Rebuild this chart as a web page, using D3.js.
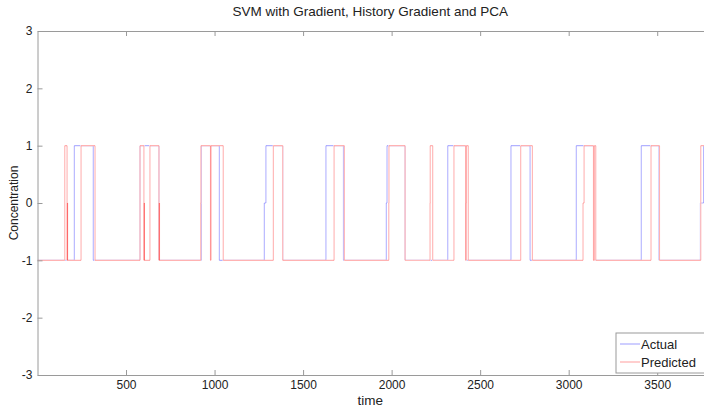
<!DOCTYPE html>
<html lang="en">
<head>
<meta charset="utf-8">
<title>SVM with Gradient, History Gradient and PCA</title>
<script src="https://d3js.org/d3.v7.min.js"></script>
<style>
    body { margin: 0; background: #fff; }
    text { font-family: "Liberation Sans", Arial, Helvetica, sans-serif; fill: #222; }
</style>
</head>
<body>
<div id="chart"></div>
<script>
// change points of each step series: time where the value switches, and the new value
var actualT = [0, 208, 315, 579, 686, 926, 1027, 1281, 1290, 1385, 1629, 1728, 1970, 1974, 2076,
               2317, 2418, 2674, 2782, 3043, 3143, 3410, 3510, 3744, 3762];
var actualV = [-1, 1, -1, 1, -1, 1, -1, 0, 1, -1, 1, -1, 0, 1, -1,
               1, -1, 1, -1, 1, -1, 1, -1, 0, 1];

var predT = [0, 154, 167, 169, 170, 246, 325, 579, 601, 603, 604, 635, 686, 688, 689,
             922, 923, 977, 980, 1049, 1332, 1385, 1675, 1733, 1984, 1985, 2076,
             2217, 2218, 2232, 2352, 2418, 2421, 2422, 2433, 2729, 2795,
             3081, 3087, 3140, 3145, 3153, 3465, 3513, 3746];
var predV = [-1, 1, -1, 0, -1, 1, -1, 1, -1, 0, -1, 1, -1, 0, -1,
             0, 1, -1, 1, -1, 1, -1, 1, -1, 0, 1, -1,
             0, 1, -1, 1, -1, 0, 1, -1, 1, -1,
             0, 1, -1, 1, -1, 1, -1, 1];

var xTicks = [500, 1000, 1500, 2000, 2500, 3000, 3500];
var yTicks = [-3, -2, -1, 0, 1, 2, 3];
var xMax = 3800;

(function() {
    var width = 704, height = 407;
    var plotLeft = 37.5, plotTop = 31, plotBottom = 375;
    var pxPerUnit = 0.17706;

    var svg = d3.select("#chart").append("svg")
        .attr("width", width)
        .attr("height", height);

    var x = d3.scaleLinear().domain([0, xMax]).range([plotLeft, plotLeft + xMax * pxPerUnit]);
    var y = d3.scaleLinear().domain([-3, 3]).range([plotBottom, plotTop]);

    svg.append("clipPath").attr("id", "plotclip")
        .append("rect")
        .attr("x", x(0)).attr("y", y(3) - 1)
        .attr("width", x(xMax) - x(0)).attr("height", y(-3) - y(3) + 2);

    function toPoints(T, V) {
        var pts = T.map(function(t, i) { return [t, V[i]]; });
        pts.push([xMax, V[V.length - 1]]);
        return pts;
    }

    // split the step line into single segments so overlapping strokes darken
    function toSegments(pts) {
        var segs = [];
        for (var i = 0; i < pts.length - 1; i++) {
            segs.push([pts[i], [pts[i + 1][0], pts[i][1]]]);
            if (i + 1 < pts.length - 1 && pts[i][1] !== pts[i + 1][1]) {
                segs.push([[pts[i + 1][0], pts[i][1]], [pts[i + 1][0], pts[i + 1][1]]]);
            }
        }
        return segs;
    }

    var line = d3.line()
        .x(function(d) { return x(d[0]); })
        .y(function(d) { return y(d[1]); });
    var stepLine = d3.line()
        .curve(d3.curveStepAfter)
        .x(function(d) { return x(d[0]); })
        .y(function(d) { return y(d[1]); });

    var plot = svg.append("g").attr("clip-path", "url(#plotclip)");

    var actualPts = toPoints(actualT, actualV);
    var predPts = toPoints(predT, predV);

    plot.selectAll(".actual")
        .data(toSegments(actualPts))
        .enter().append("path")
        .attr("class", "actual")
        .attr("d", line)
        .attr("fill", "none")
        .attr("stroke", "#0000ff")
        .attr("stroke-opacity", 0.3)
        .attr("stroke-width", 1.1);

    // predicted is drawn over actual, hiding it like an opaque line would
    plot.append("path")
        .datum(predPts)
        .attr("d", stepLine)
        .attr("fill", "none")
        .attr("stroke", "#fff")
        .attr("stroke-width", 1.3);

    plot.selectAll(".pred")
        .data(toSegments(predPts))
        .enter().append("path")
        .attr("class", "pred")
        .attr("d", line)
        .attr("fill", "none")
        .attr("stroke", "#ff0000")
        .attr("stroke-opacity", 0.3)
        .attr("stroke-width", 1.1);

    // axes, MATLAB style with inward ticks
    var axisColor = "#9a9a9a";
    var plainFormat = function(d) { return String(d); };

    var gx = svg.append("g")
        .attr("transform", "translate(0," + plotBottom + ")")
        .call(d3.axisBottom(x).tickValues(xTicks).tickFormat(plainFormat)
            .tickSize(-5).tickPadding(5).tickSizeOuter(0));
    var gxTop = svg.append("g")
        .attr("transform", "translate(0," + plotTop + ")")
        .call(d3.axisTop(x).tickValues(xTicks).tickSize(-5).tickFormat("").tickSizeOuter(0));
    var gy = svg.append("g")
        .attr("transform", "translate(" + plotLeft + ",0)")
        .call(d3.axisLeft(y).tickValues(yTicks).tickFormat(plainFormat)
            .tickSize(-5).tickPadding(5).tickSizeOuter(0));

    [gx, gxTop, gy].forEach(function(g) {
        g.select(".domain").attr("stroke", axisColor);
        g.selectAll(".tick line").attr("stroke", axisColor);
        g.selectAll(".tick text")
            .style("font-family", "'Liberation Sans', Arial, sans-serif")
            .style("font-size", "12px")
            .attr("fill", "#222");
    });

    svg.append("text")
        .attr("x", (plotLeft + 703) / 2)
        .attr("y", 16)
        .attr("text-anchor", "middle")
        .style("font-size", "13.5px")
        .text("SVM with Gradient, History Gradient and PCA");

    svg.append("text")
        .attr("x", (plotLeft + 703) / 2)
        .attr("y", 405)
        .attr("text-anchor", "middle")
        .style("font-size", "13.5px")
        .text("time");

    svg.append("text")
        .attr("transform", "translate(18," + y(0) + ") rotate(-90)")
        .attr("text-anchor", "middle")
        .style("font-size", "12px")
        .text("Concentration");

    // legend
    var legend = svg.append("g").attr("transform", "translate(616,333)");
    legend.append("rect")
        .attr("x", 0).attr("y", 0)
        .attr("width", 100).attr("height", 40)
        .attr("fill", "#fff")
        .attr("stroke", axisColor);

    var legendItems = [
        { name: "Actual", color: "#0000ff" },
        { name: "Predicted", color: "#ff0000" }
    ];
    legendItems.forEach(function(d, i) {
        var ly = 11 + i * 18;
        legend.append("line")
            .attr("x1", 4).attr("x2", 24)
            .attr("y1", ly).attr("y2", ly)
            .attr("stroke", d.color)
            .attr("stroke-opacity", 0.3)
            .attr("stroke-width", 1.3);
        legend.append("text")
            .attr("x", 25)
            .attr("y", ly + 4.5)
            .style("font-size", "13px")
            .text(d.name);
    });
})();
</script>
</body>
</html>
